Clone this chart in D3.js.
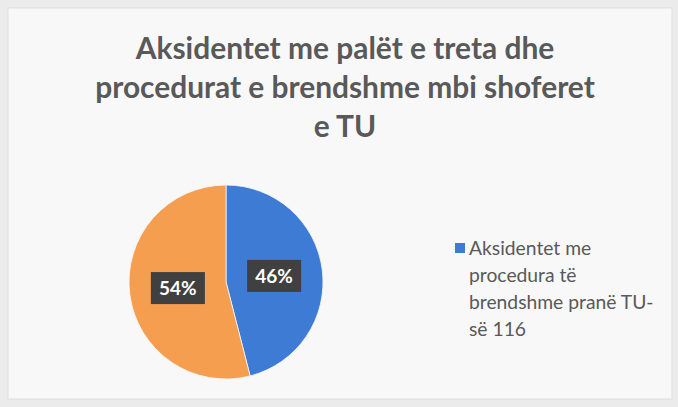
<!DOCTYPE html>
<html>
<head>
<meta charset="utf-8">
<script src="https://cdn.jsdelivr.net/npm/d3@7"></script>
<style>
  html, body { margin: 0; padding: 0; background: #ebebeb; }
  svg { display: block; }
</style>
</head>
<body>
<div id="chart"></div>
<script>
"use strict";

// Data
const titleLines = ["Aksidentet me palët e treta dhe", "procedurat e brendshme mbi shoferet", "e TU"];
const categories = ["Aksidentet me procedura të brendshme pranë TU-së 116", "Aksidentet me palët e treta"];
const values = [46, 54];
const colors = ["#3d7bd4", "#f59e4f"];
const legendLines = ["Aksidentet me", "procedura të", "brendshme pranë TU-", "së 116"];

const width = 678, height = 407;

const svg = d3.select("#chart").append("svg")
    .attr("width", width)
    .attr("height", height);

// Background frame
svg.append("rect")
    .attr("x", 8).attr("y", 8)
    .attr("width", width - 14).attr("height", height - 16)
    .style("fill", "#f8f8f8")
    .style("stroke", "#dedede");

// Title
let title = svg.append("g").attr("class", "title");
title.selectAll("text")
    .data(titleLines)
  .enter().append("text")
    .attr("x", 345)
    .attr("y", (d, i) => 59 + i * 39)
    .attr("text-anchor", "middle")
    .style("font-family", "Lato, 'Open Sans', sans-serif")
    .style("font-weight", "bold")
    .style("font-size", "29px")
    .style("fill", "#595959")
    .text(d => d);

// Fit title font so line 2 is about 500px wide
let t2 = title.selectAll("text").nodes()[1];
let tw = t2.getComputedTextLength();
title.selectAll("text").style("font-size", (29 * 500 / tw).toFixed(1) + "px");

// Pie
let cx = 226, cy = 282, r = 97;

let pie = d3.pie().sort(null).value(d => d);
let arc = d3.arc().innerRadius(0).outerRadius(r);
let labelArc = d3.arc().innerRadius(r * 0.5).outerRadius(r * 0.5);

let g = svg.append("g").attr("transform", "translate(" + cx + "," + cy + ")");
let arcs = pie(values);

g.selectAll("path")
    .data(arcs)
  .enter().append("path")
    .attr("d", arc)
    .style("fill", (d, i) => colors[i])
    .style("stroke", "#f8f8f8")
    .style("stroke-width", 0.8);

let total = d3.sum(values);
let fmt = d => Math.round(d.value / total * 100) + "%";

let labels = g.selectAll("g.lbl")
    .data(arcs)
  .enter().append("g")
    .attr("class", "lbl")
    .attr("transform", d => "translate(" + labelArc.centroid(d) + ")");

labels.append("rect")
    .attr("x", -27).attr("y", -16)
    .attr("width", 54).attr("height", 32)
    .style("fill", "#404040");

labels.append("text")
    .attr("text-anchor", "middle")
    .attr("dy", "0.36em")
    .style("font-family", "Lato, 'Open Sans', sans-serif")
    .style("font-weight", "bold")
    .style("font-size", "19px")
    .style("fill", "#ffffff")
    .text(fmt);

// Legend (first series only, as in the original)
let legend = svg.append("g").attr("class", "legend");
legend.append("rect")
    .attr("x", 455).attr("y", 243)
    .attr("width", 10).attr("height", 10)
    .style("fill", colors[0]);

let lt = legend.selectAll("text")
    .data(legendLines)
  .enter().append("text")
    .attr("x", 469)
    .attr("y", (d, i) => 255 + i * 27)
    .style("font-family", "Lato, 'Open Sans', sans-serif")
    .style("font-size", "18px")
    .style("fill", "#595959")
    .text(d => d);

// Fit legend so the longest line is about 185px wide
let lw = lt.nodes()[2].getComputedTextLength();
lt.style("font-size", (18 * 185 / lw).toFixed(1) + "px");
</script>
</body>
</html>
